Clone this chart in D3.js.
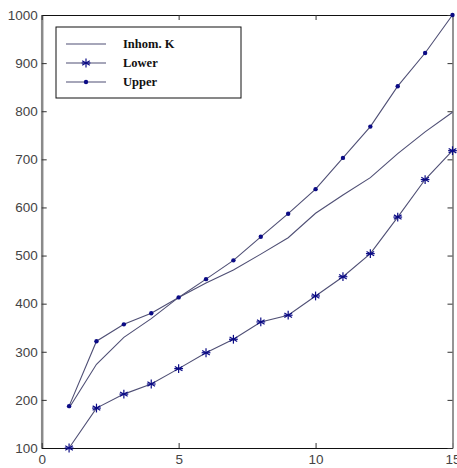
<!DOCTYPE html>
<html><head><meta charset="utf-8">
<script src="https://cdn.jsdelivr.net/npm/d3@7"></script>
<style>body{margin:0;background:#fff}svg{display:block}</style>
</head><body>
<svg id="c" width="457" height="468"></svg>
<script>
const xs = [1,2,3,4,5,6,7,8,9,10,11,12,13,14,15];
const inhomK = [183,274,330,369,413,443,470,503,537,588,626,662,712,757,798];
const lower = [100,183,212,233,265,298,326,362,376,416,456,504,580,658,718];
const upper = [187,322,357,380,413,451,490,539,587,638,703,768,852,921,1000];
const xTicks = [0,5,10,15];
const yTicks = [100,200,300,400,500,600,700,800,900,1000];
const legendLabels = ["Inhom. K","Lower","Upper"];

const svg = d3.select("#c");
const x = d3.scaleLinear().domain([0,15]).range([41.7,452.5]);
const y = d3.scaleLinear().domain([100,1000]).range([448,15]);
const lineColor = "#4f4f75", markColor = "#0b0b85";
const tickFont = "'Liberation Sans', Arial, sans-serif";
const fmt = d3.format("d");

// axes
const gl = svg.append("g").attr("transform",`translate(${x(0)},0)`)
  .call(d3.axisLeft(y).tickValues(yTicks).tickFormat(fmt).tickSizeInner(-5).tickSizeOuter(0).tickPadding(4));
gl.select(".domain").attr("stroke","#8a8a8a").attr("stroke-width",2.5);
const gb = svg.append("g").attr("transform",`translate(0,${y(100)})`)
  .call(d3.axisBottom(x).tickValues(xTicks).tickFormat(fmt).tickSizeInner(-5).tickSizeOuter(0).tickPadding(6));
gb.select(".domain").attr("stroke","#111").attr("stroke-width",1.2);
const gt = svg.append("g").attr("transform",`translate(0,${y(1000)})`)
  .call(d3.axisTop(x).tickValues(xTicks).tickSizeInner(-5).tickSizeOuter(0).tickFormat(""));
gt.select(".domain").attr("stroke","#111").attr("stroke-width",1.2);
const gr = svg.append("g").attr("transform",`translate(${x(15)},0)`)
  .call(d3.axisRight(y).tickValues(yTicks).tickSizeInner(-5).tickSizeOuter(0).tickFormat(""));
gr.select(".domain").attr("stroke","#8a8a8a").attr("stroke-width",1.8);
svg.selectAll(".tick line").attr("stroke","#333");
svg.selectAll(".tick text").attr("font-family",tickFont).attr("font-size",13.5).attr("fill","#444");

// series
const series = [
  {name: legendLabels[0], vals: inhomK, mark: "none"},
  {name: legendLabels[1], vals: lower, mark: "star"},
  {name: legendLabels[2], vals: upper, mark: "dot"}
];
const line = d3.line().x((d,i)=>x(xs[i])).y(d=>y(d));
function drawMark(g, type, cx, cy){
  if(type==="star"){
    const r=4.4;
    [[0,1],[0.866,0.5],[0.866,-0.5]].forEach(([a,b])=>{
      g.append("line").attr("x1",cx-a*r).attr("y1",cy-b*r).attr("x2",cx+a*r).attr("y2",cy+b*r)
        .attr("stroke",markColor).attr("stroke-width",1.2);
    });
    g.append("line").attr("x1",cx-r).attr("y1",cy).attr("x2",cx+r).attr("y2",cy)
        .attr("stroke",markColor).attr("stroke-width",1.2);
  } else if(type==="dot"){
    g.append("circle").attr("cx",cx).attr("cy",cy).attr("r",2.2).attr("fill",markColor);
  }
}
series.forEach(s=>{
  svg.append("path").datum(s.vals).attr("d",line).attr("fill","none")
    .attr("stroke",lineColor).attr("stroke-width",1.1);
  const g = svg.append("g");
  s.vals.forEach((v,i)=>drawMark(g, s.mark, x(xs[i]), y(v)));
});

// legend
const lg = svg.append("g");
lg.append("rect").attr("x",56).attr("y",27).attr("width",185).attr("height",71)
  .attr("fill","#fff").attr("stroke","#111").attr("stroke-width",1);
const ly = [44,63,82];
series.forEach((s,i)=>{
  lg.append("line").attr("x1",66).attr("x2",106).attr("y1",ly[i]).attr("y2",ly[i])
    .attr("stroke",lineColor).attr("stroke-width",1.1);
  drawMark(lg, s.mark, 86, ly[i]);
  lg.append("text").attr("x",123).attr("y",ly[i]+4).text(s.name)
    .attr("font-family","'Liberation Serif','Times New Roman',serif").attr("font-weight","bold")
    .attr("font-size",12.5).attr("fill","#111");
});
</script>
</body></html>
